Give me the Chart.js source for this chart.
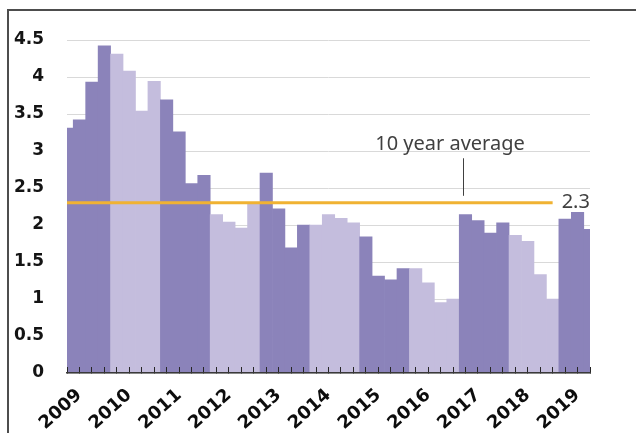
<!DOCTYPE html>
<html>
<head>
<meta charset="utf-8">
<script src="https://cdn.jsdelivr.net/npm/chart.js@4/dist/chart.umd.min.js"></script>
<style>
  html, body { margin: 0; padding: 0; background: #fff; width: 636px; height: 433px; overflow: hidden; }
  #frame { position: absolute; left: 7px; top: 9px; width: 700px; height: 500px; border: 2px solid #4d4d4d; box-sizing: border-box; }
  #chart { position: absolute; left: 0; top: 0; }
</style>
</head>
<body>
<div id="frame"></div>
<canvas id="chart" width="636" height="433"></canvas>
<script>
// Quarterly values, 2009 Q1 to 2019 Q3
const years = ['2009', '2010', '2011', '2012', '2013', '2014', '2015', '2016', '2017', '2018', '2019'];
const quarters = ['Q1', 'Q2', 'Q3', 'Q4'];
const values = [
  3.31, 3.42, 3.93, 4.42,   // 2009
  4.31, 4.08, 3.54, 3.94,   // 2010
  3.69, 3.26, 2.56, 2.67,   // 2011
  2.14, 2.04, 1.96, 2.28,   // 2012
  2.70, 2.22, 1.69, 2.00,   // 2013
  2.00, 2.14, 2.09, 2.03,   // 2014
  1.84, 1.31, 1.26, 1.41,   // 2015
  1.41, 1.22, 0.95, 1.00,   // 2016
  2.14, 2.06, 1.89, 2.03,   // 2017
  1.86, 1.78, 1.33, 1.00,   // 2018
  2.08, 2.17, 1.94          // 2019
];
const yTicks = [0, 0.5, 1, 1.5, 2, 2.5, 3, 3.5, 4, 4.5];

// Ten-year average and the span it is drawn over
const averageValue = 2.3;
const averageFrom = '2009 Q1';
const averageTo = '2018 Q4';
const averageCaption = '10 year average';

const categories = years.flatMap(y => quarters.map(q => y + ' ' + q)).slice(0, values.length);

const DARK = '#8b83ba';
const LIGHT = '#c4bddd';
const barColors = categories.map(c => (years.indexOf(c.slice(0, 4)) % 2 === 0 ? DARK : LIGHT));

// Caption with a leader line, plus the value label at the end of the average line
const averageNote = {
  id: 'averageNote',
  afterDatasetsDraw(chart) {
    const { ctx, scales: { x, y } } = chart;
    const yAvg = y.getPixelForValue(averageValue);
    const xEnd = x.getPixelForValue(categories.indexOf(averageTo));
    const leaderX = x.getPixelForValue(31.8);
    const captionBase = y.getPixelForValue(3.01);
    ctx.save();
    ctx.fillStyle = '#404040';
    ctx.font = '20px "Noto Sans"';
    ctx.textBaseline = 'alphabetic';
    ctx.textAlign = 'left';
    ctx.fillText(averageValue.toFixed(1), xEnd + 9, yAvg + 5);
    ctx.textAlign = 'center';
    ctx.fillText(averageCaption, leaderX - 13, captionBase);
    ctx.strokeStyle = '#404040';
    ctx.lineWidth = 1;
    ctx.beginPath();
    ctx.moveTo(Math.round(leaderX) + 0.5, captionBase + 8);
    ctx.lineTo(Math.round(leaderX) + 0.5, yAvg - 7);
    ctx.stroke();
    ctx.restore();
  }
};

new Chart(document.getElementById('chart'), {
  type: 'bar',
  data: {
    labels: categories,
    datasets: [
      {
        type: 'line',
        data: [{ x: averageFrom, y: averageValue }, { x: averageTo, y: averageValue }],
        borderColor: '#f0b232',
        borderWidth: 3,
        borderCapStyle: 'butt',
        pointRadius: 0,
        fill: false,
        clip: 0,
        order: 0
      },
      {
        data: values,
        backgroundColor: barColors,
        borderWidth: 0,
        categoryPercentage: 1,
        barPercentage: 1,
        clip: 0,
        order: 1
      }
    ]
  },
  options: {
    responsive: false,
    animation: false,
    events: [],
    layout: { padding: { top: 40, right: 46, bottom: 0, left: 0 } },
    plugins: { legend: { display: false }, tooltip: { enabled: false } },
    scales: {
      x: {
        type: 'category',
        offset: false,
        grid: {
          offset: false,
          drawOnChartArea: false,
          drawTicks: true,
          tickLength: -6,
          color: '#262626',
          tickColor: '#262626',
          lineWidth: 1,
          tickWidth: 1,
          z: 1
        },
        border: { display: true, color: '#3a3a3a', width: 1.5, z: 1 },
        ticks: {
          autoSkip: false,
          minRotation: 42,
          maxRotation: 42,
          padding: 25,
          color: '#0d0d0d',
          font: { family: '"DejaVu Sans"', size: 18, weight: 'bold', lineHeight: 0.1 },
          callback: (v, i) => (categories[i].endsWith('Q2') ? categories[i].slice(0, 4) : '')
        },
        afterFit: s => { s.height = 60; }
      },
      y: {
        min: 0,
        max: 4.5,
        border: { display: false },
        grid: { color: '#d9d9d9', lineWidth: 1, drawTicks: false },
        afterBuildTicks: s => { s.ticks = yTicks.map(v => ({ value: v })); },
        ticks: {
          padding: 23,
          color: '#141414',
          font: { family: '"DejaVu Sans"', size: 17, weight: 'bold' },
          callback: v => String(v)
        },
        afterFit: s => { s.width = 67; }
      }
    }
  },
  plugins: [averageNote]
});
</script>
</body>
</html>
